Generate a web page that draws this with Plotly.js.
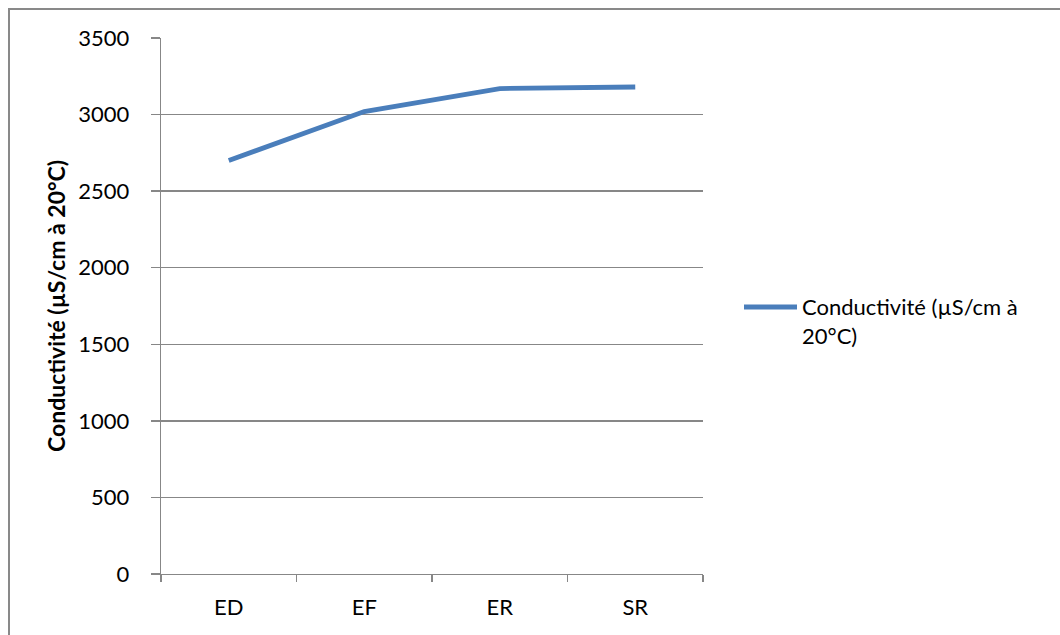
<!DOCTYPE html>
<html>
<head>
<meta charset="utf-8">
<script src="https://cdn.plot.ly/plotly-3.0.1.min.js"></script>
<style>
  html, body { margin: 0; padding: 0; background: #ffffff; }
  #chart { width: 1060px; height: 635px; }
</style>
</head>
<body>
<div id="chart"></div>
<script>
// Sampling points along the treatment line
const sites = ['ED', 'EF', 'ER', 'SR'];
// Conductivity measured at each point (µS/cm at 20°C)
const conductivity = [2700, 3020, 3170, 3180];
const seriesName = 'Conductivité (µS/cm à<br>20°C)';
const yTitle = 'Conductivité (µS/cm à 20°C)';
const yTicks = [0, 500, 1000, 1500, 2000, 2500, 3000, 3500];

const FONT = 'Lato, "Open Sans", "DejaVu Sans", sans-serif';
const GRID = '#878787';
const LINE_COLOR = '#4a7ebb';
const FS = 22;

// plot area in pixels, used to place the legend key in paper units
const L = 161, R = 357, T = 38, B = 61, W = 1060, H = 635;
const PW = W - L - R, PH = H - T - B;
const px = x => (x - L) / PW;
const py = y => (H - B - y) / PH;

const trace = {
  type: 'scatter',
  mode: 'lines',
  x: sites,
  y: conductivity,
  name: seriesName,
  line: { color: LINE_COLOR, width: 4.8 },
  showlegend: false,
  hoverinfo: 'x+y'
};

const layout = {
  width: W,
  height: H,
  margin: { l: L, r: R, t: T, b: B },
  paper_bgcolor: '#ffffff',
  plot_bgcolor: '#ffffff',
  font: { family: FONT, size: FS, color: '#000000' },
  showlegend: false,
  xaxis: {
    type: 'category',
    range: [-0.5, 3.5],
    showgrid: false,
    showline: true, linecolor: GRID, linewidth: 1.3,
    ticks: 'outside', tickson: 'boundaries', ticklen: 7, tickcolor: GRID, tickwidth: 1.3,
    ticklabelstandoff: 13,
    tickfont: { family: FONT, size: FS, color: '#000000' },
    zeroline: false, fixedrange: true
  },
  yaxis: {
    range: [0, 3500],
    tickvals: yTicks,
    ticktext: yTicks.map(String),
    showgrid: true, gridcolor: GRID, gridwidth: 1.3,
    showline: true, linecolor: GRID, linewidth: 1.3,
    ticks: 'outside', ticklen: 9, tickcolor: GRID, tickwidth: 1.3,
    ticklabelstandoff: 17,
    tickfont: { family: FONT, size: FS, color: '#000000' },
    zeroline: false, fixedrange: true,
    title: { text: yTitle, font: { family: FONT, size: 23, color: '#000000', weight: 'bold' }, standoff: 6 }
  },
  shapes: [
    // outer frame of the chart area
    { type: 'rect', xref: 'paper', yref: 'paper',
      x0: px(9), x1: px(1068), y0: py(645), y1: py(9),
      line: { color: '#898989', width: 2 }, fillcolor: 'rgba(0,0,0,0)', layer: 'below' },
    // legend key
    { type: 'line', xref: 'paper', yref: 'paper',
      x0: px(744), x1: px(797), y0: py(307), y1: py(307),
      line: { color: LINE_COLOR, width: 4.8 } }
  ],
  annotations: [
    { xref: 'paper', yref: 'paper', x: px(800), y: py(291),
      xanchor: 'left', yanchor: 'top', align: 'left', showarrow: false,
      text: seriesName,
      font: { family: FONT, size: FS, color: '#000000', lineposition: 'none' } }
  ]
};

Plotly.newPlot('chart', [trace], layout, { displayModeBar: false, staticPlot: true });
</script>
</body>
</html>
